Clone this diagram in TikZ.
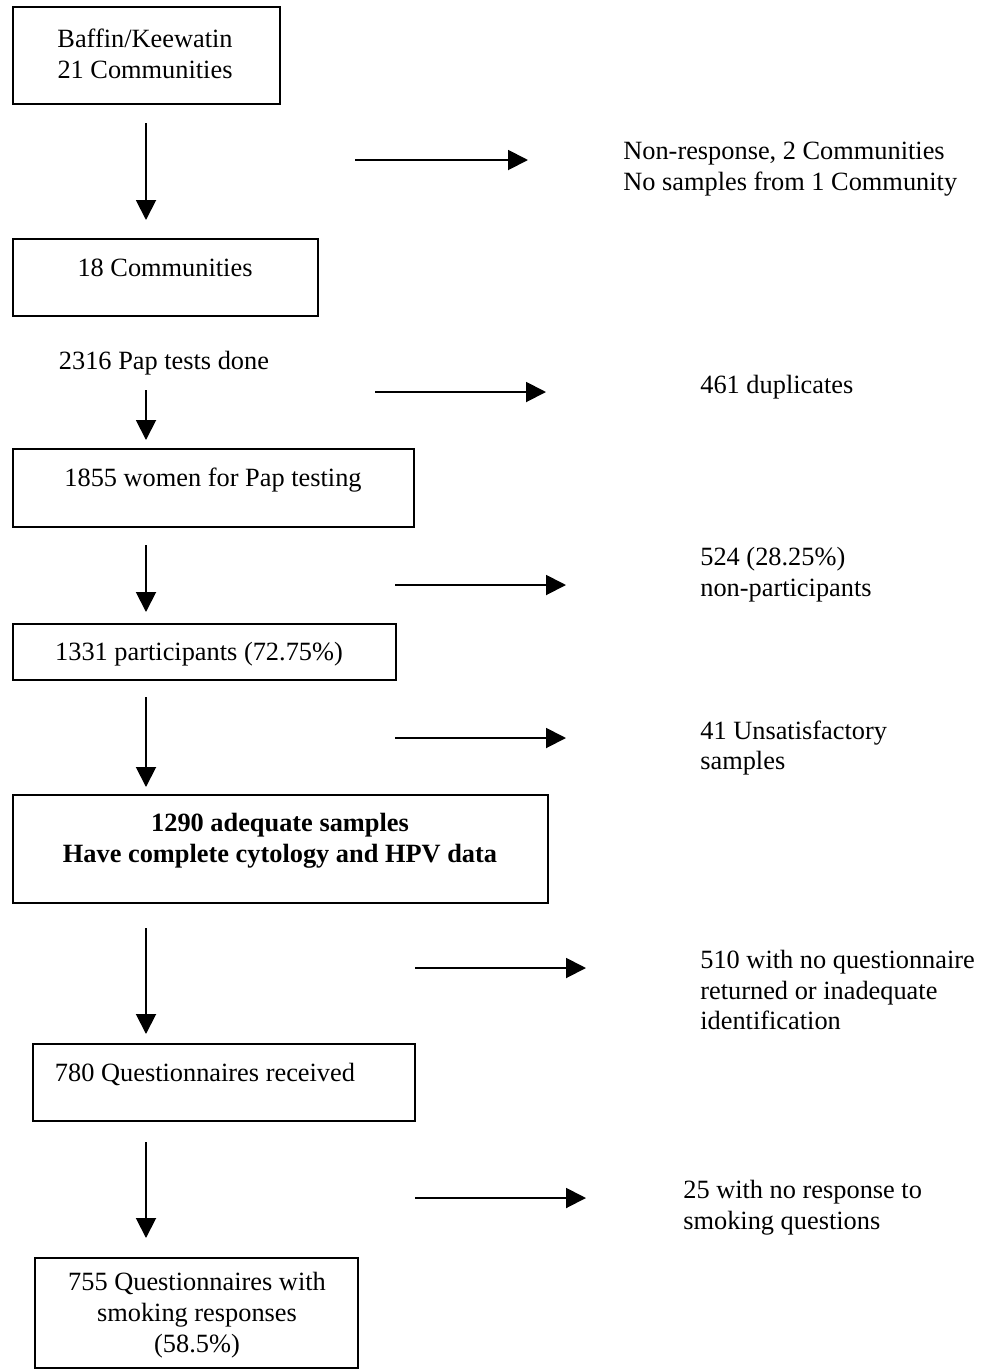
\documentclass[tikz,border=0pt]{standalone}
\usepackage{fontspec}
\setmainfont{Liberation Serif}
\usepackage{tikz}
\usetikzlibrary{arrows.meta}
\tikzset{>={Triangle[length=0.40cm,width=0.40cm]}}
\tikzstyle{box}=[line width=1.1pt,black]
\tikzstyle{arrow}=[->,line width=1.1pt]
\tikzstyle{label}=[inner sep=0pt,align=center,font=\fontsize{15}{17.6}\selectfont]
\tikzstyle{note}=[inner sep=0pt,align=left,anchor=west,font=\fontsize{15}{17.6}\selectfont]

\begin{document}
\begin{tikzpicture}[x=0.02cm,y=-0.02cm]
  \useasboundingbox (0,0) rectangle (993,1370);

  % BOXES
  \draw[box] (13,7)     rectangle (280,104);
  \draw[box] (13,239)   rectangle (318,316);
  \draw[box] (13,449)   rectangle (414,527);
  \draw[box] (13,624)   rectangle (396,680);
  \draw[box] (13,795)   rectangle (548,903);
  \draw[box] (33,1044)  rectangle (415,1121);
  \draw[box] (35,1258)  rectangle (358,1368);

  % BOX TEXTS
  \node[label] (baffin) at (145,54)  {Baffin/Keewatin\\21 Communities};
  \node[label] (comm)   at (165,268) {18 Communities};
  \node[label] (pap)    at (164,363) {2316 Pap tests done};
  \node[label] (women)  at (213,480) {1855 women for Pap testing};
  \node[label] (part)   at (199,654) {1331 participants (72.75\%)};
  \node[label,font=\fontsize{15}{17.6}\selectfont\bfseries] (adeq) at (280,841)
        {1290 adequate samples\\Have complete cytology and HPV data};
  \node[label] (quest)  at (205,1074) {780 Questionnaires received};
  \node[label] (smoke)  at (197,1315) {755 Questionnaires with\\smoking responses\\(58.5\%)};

  % EXCLUSIONS
  \node[note] (nonresp) at (623,169)  {Non-response, 2 Communities\\No samples from 1 Community};
  \node[note] (dupl)    at (700,387)  {461 duplicates};
  \node[note] (nonpart) at (700,575)  {524 (28.25\%)\\non-participants};
  \node[note] (unsat)   at (700,748)  {41 Unsatisfactory\\samples};
  \node[note] (noquest) at (700,990)  {510 with no questionnaire\\returned or inadequate\\identification};
  \node[note] (noresp)  at (683,1208) {25 with no response to\\smoking questions};

  % DOWN ARROWS
  \foreach \i/\a/\b in {1/123/220, 2/390/440, 3/545/612, 4/697/787, 5/928/1034, 6/1142/1238} {
    \coordinate (d\i s) at (146,\a);
    \coordinate (d\i e) at (146,\b);
    \draw[arrow] (d\i s) -- (d\i e);
  }

  % SIDE ARROWS
  \foreach \i/\a/\b/\c in {1/355/528/160, 2/375/546/392, 3/395/566/585,
                           4/395/566/738, 5/415/586/968, 6/415/586/1198} {
    \coordinate (r\i s) at (\a,\c);
    \coordinate (r\i e) at (\b,\c);
    \draw[arrow] (r\i s) -- (r\i e);
  }

\end{tikzpicture}
\end{document}
